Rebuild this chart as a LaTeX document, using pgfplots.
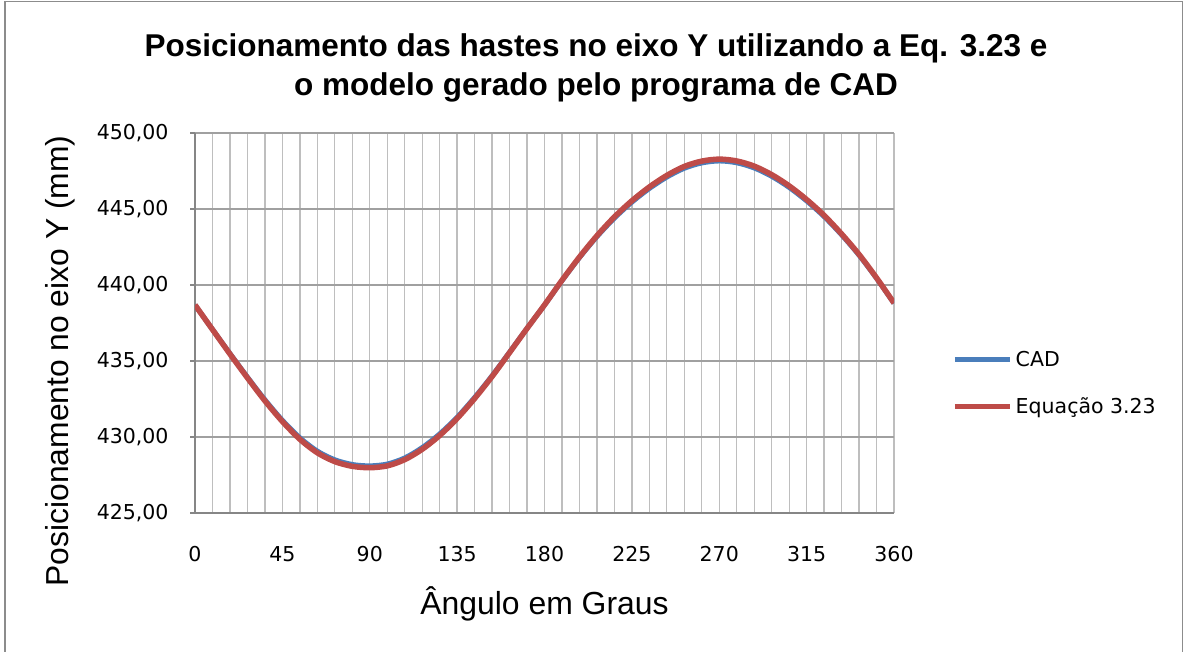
\documentclass[border=0pt]{standalone}
\usepackage{fontspec}
\setmainfont{DejaVu Sans}
\newfontfamily\arialfont{Liberation Sans}
\usepackage{pgfplots}
\pgfplotsset{compat=1.18}
\usepackage{pgfplotstable}
\definecolor{cadblue}{RGB}{74,126,187}
\definecolor{eqred}{RGB}{190,75,72}
\definecolor{vgrid}{RGB}{190,190,190}
\definecolor{hgrid}{RGB}{160,160,160}
\definecolor{axgray}{RGB}{134,134,134}
\definecolor{framegray}{RGB}{140,140,140}

\pgfplotstableread{
ang cad eq
0   438.68 438.69
9   437.08 437.07
18  435.49 435.46
27  433.94 433.89
36  432.45 432.38
45  431.10 431.02
54  429.95 429.85
63  429.07 428.96
72  428.50 428.38
81  428.19 428.07
90  428.10 427.98
99  428.22 428.10
108 428.62 428.51
117 429.30 429.19
126 430.20 430.10
135 431.30 431.22
144 432.60 432.53
153 434.03 433.98
162 435.58 435.55
171 437.15 437.14
180 438.68 438.69
189 440.28 440.31
198 441.80 441.84
207 443.18 443.24
216 444.40 444.48
225 445.45 445.54
234 446.35 446.45
243 447.10 447.21
252 447.68 447.80
261 448.03 448.15
270 448.16 448.28
279 448.04 448.16
288 447.70 447.82
297 447.15 447.26
306 446.42 446.52
315 445.53 445.62
324 444.50 444.58
333 443.30 443.36
342 441.96 442.01
351 440.44 440.47
360 438.80 438.81
}\datatable

\begin{document}
\begin{tikzpicture}[x=1bp,y=1bp]
\useasboundingbox (0,0) rectangle (1186,652);
\draw[framegray, line width=1.5bp] (5,0) -- (5,650.5) -- (1182.5,650.5) -- (1182.5,0);
\node[font=\arialfont\bfseries\fontsize{31.5bp}{36bp}\selectfont, anchor=base] at (596,595) {Posicionamento das hastes no eixo Y utilizando a Eq. 3.23 e};
\node[font=\arialfont\bfseries\fontsize{31.5bp}{36bp}\selectfont, anchor=base] at (596,556) {o modelo gerado pelo programa de CAD};
\begin{axis}[
  at={(195bp,139bp)}, anchor=south west,
  scale only axis, width=699bp, height=380bp,
  xmin=0, xmax=360, ymin=425, ymax=450,
  xtick={0,45,...,360}, ytick={425,430,...,450},
  minor xtick={9,18,...,351},
  xmajorgrids, xminorgrids, ymajorgrids,
  major x grid style={vgrid, line width=1.3bp},
  minor x grid style={vgrid, line width=1.3bp},
  major y grid style={hgrid, line width=1.5bp},
  axis x line*=bottom, axis y line*=left,
  axis line style={axgray, line width=1.5bp},
  tick align=outside, major tick length=5bp, minor tick length=0pt,
  xtick style={draw=none},
  ytick style={axgray, line width=1.2bp},
  /pgf/number format/assume math mode=true,
  yticklabel style={font=\fontsize{20.5bp}{24bp}\selectfont, xshift=-18bp,
    /pgf/number format/.cd, fixed, fixed zerofill, precision=2, use comma},
  xticklabel style={font=\fontsize{20.5bp}{24bp}\selectfont, yshift=-25bp,
    /pgf/number format/.cd, fixed, precision=0},
  xlabel={Ângulo em Graus},
  xlabel style={font=\arialfont\fontsize{31.9bp}{36bp}\selectfont, at={(axis description cs:0.5,-0.268)}, anchor=base},
  ylabel={Posicionamento no eixo Y (mm)},
  ylabel style={font=\arialfont\fontsize{31.8bp}{36bp}\selectfont, at={(axis description cs:-0.193,0.4)}, anchor=center},
  legend cell align=left,
  legend image code/.code={\draw[#1] (0bp,0bp) -- (55bp,0bp);},
  legend style={draw=none, fill=none, at={(axis description cs:1.083,0.342)}, anchor=west,
    inner sep=0pt, row sep=30bp, column sep=3bp,
    nodes={inner sep=0pt, font=\fontsize{20.5bp}{24bp}\selectfont}},
]
\addplot[cadblue, line width=5bp, smooth] table[x=ang,y=cad]{\datatable};
\addlegendentry{CAD}
\addplot[eqred, line width=5.5bp, smooth] table[x=ang,y=eq]{\datatable};
\addlegendentry{Equação 3.23}
\end{axis}
\end{tikzpicture}
\end{document}
